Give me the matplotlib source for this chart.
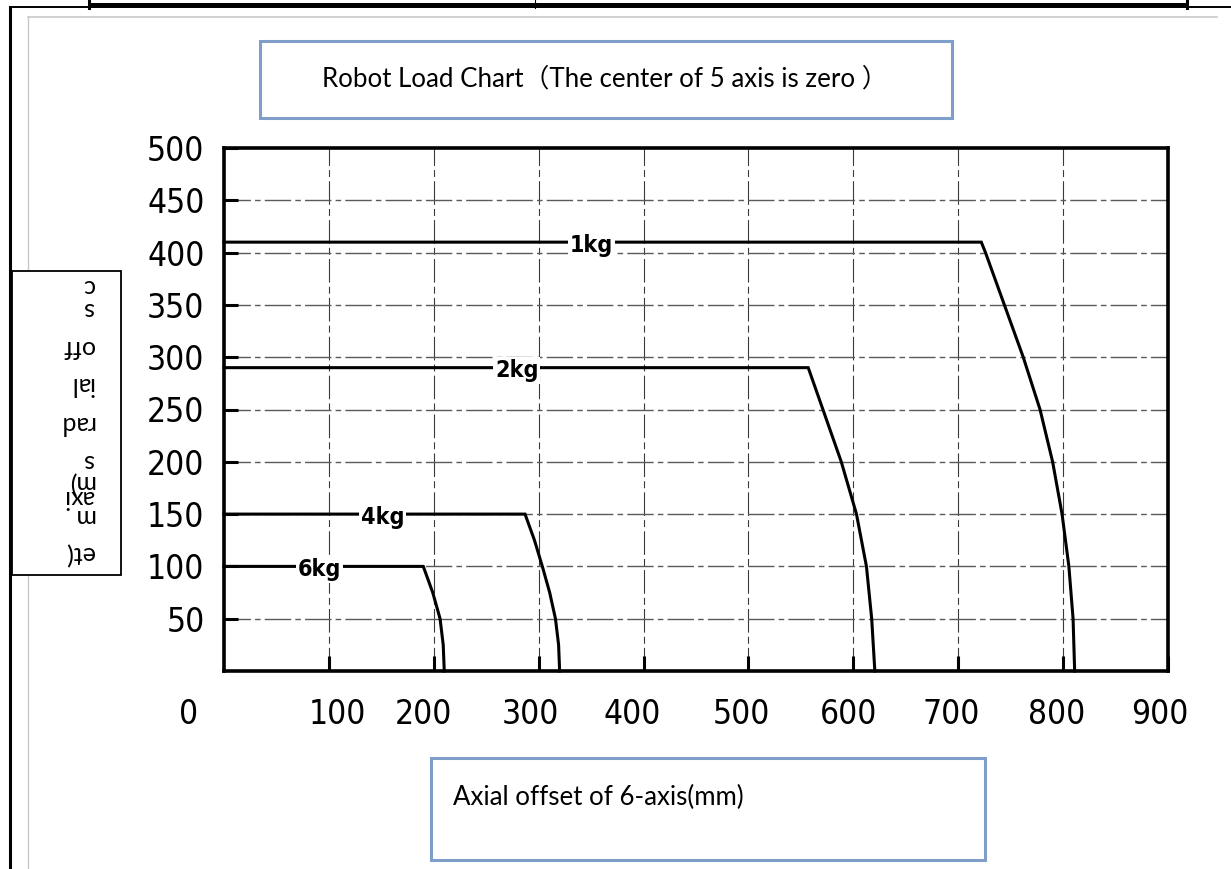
import os
import glob
import matplotlib
matplotlib.use("Agg")
import matplotlib.pyplot as plt
from matplotlib import font_manager as fm
from matplotlib.patches import Rectangle
from matplotlib.lines import Line2D
from matplotlib.textpath import TextPath
import matplotlib.transforms as mtransforms

# ---------------- data ----------------
load_names = ["1kg", "2kg", "4kg", "6kg"]

x_1kg = [0, 722, 726, 744, 762, 778, 790, 799, 805.5, 809.5, 811]
y_1kg = [410, 410, 400, 350, 300, 250, 200, 150, 100, 50, 0]

x_2kg = [0, 557, 571, 588.5, 603, 612.5, 617.5, 620.5]
y_2kg = [290, 290, 250, 200, 150, 100, 50, 0]

x_4kg = [0, 287, 296, 303.5, 310.5, 316, 319, 320]
y_4kg = [150, 150, 125, 100, 75, 50, 25, 0]

x_6kg = [0, 190, 199, 206, 209, 210]
y_6kg = [100, 100, 75, 50, 25, 0]

# where each load label sits along its flat segment (x value)
label_x = [350, 279, 151, 91]

x_ticks = [0, 100, 200, 300, 400, 500, 600, 700, 800, 900]
x_tick_labels = ["0", "100", "200", "300", "400", "500", "600", "700", "800", "900"]
y_ticks = [50, 100, 150, 200, 250, 300, 350, 400, 450, 500]
y_tick_labels = ["50", "100", "150", "200", "250", "300", "350", "400", "450", "500"]

title_text = "Robot Load Chart（The center of 5 axis is zero ）"
xlabel_text = "Axial offset of 6-axis(mm)"
left_box_lines = ["c", "s", "off", "ial", "rad", "s", "m)", "axi", "m", "et("]

# ---------------- fonts ----------------
def find_font(prefixes):
    files = [f.fname for f in fm.fontManager.ttflist]
    files += glob.glob("/usr/share/fonts/**/*.[ot]tf", recursive=True)
    for p in prefixes:
        for fn in files:
            if os.path.basename(fn).lower().startswith(p.lower()):
                return fn
    return None

num_file = find_font(["LiberationSansNarrow-Regular", "DejaVuSansCondensed.ttf",
                      "NotoSans-Condensed.", "RobotoCondensed-Regular",
                      "OpenSans-CondRegular", "OpenSans_Condensed-Regular"])
bold_file = find_font(["LiberationSansNarrow-Bold.", "DejaVuSansCondensed-Bold",
                       "NotoSans-CondensedBold", "RobotoCondensed-Bold",
                       "OpenSans-CondBold", "OpenSans_Condensed-Bold"])

if num_file:
    fp_num = fm.FontProperties(fname=num_file)
else:
    fp_num = fm.FontProperties(family="Roboto")
if bold_file:
    fp_kg = fm.FontProperties(fname=bold_file)
else:
    fp_kg = fm.FontProperties(family="Roboto", weight="bold")

def fit_pt(fp, wsample, wpx, hsample, hpx):
    w = TextPath((0, 0), wsample, size=100, prop=fp).get_extents().width
    h = TextPath((0, 0), hsample, size=100, prop=fp).get_extents().height
    return min(wpx * 72 / w, hpx * 72 / h)

fp_num.set_size(fit_pt(fp_num, "500", 53, "500", 29))
fp_kg.set_size(fit_pt(fp_kg, "2kg", 40, "2", 22))

txt_family = ["Lato", "Noto Sans CJK SC", "DejaVu Sans"]
plt.rcParams["lines.scale_dashes"] = False

# ---------------- figure ----------------
W, H = 1231, 869
fig = plt.figure(figsize=(W / 100, H / 100), dpi=100)
fig.patch.set_facecolor("white")

def fx(x):
    return x / W

def fy(y):
    return 1 - y / H

def fig_rect(x0, y0, x1, y1, **kw):
    r = Rectangle((fx(x0), fy(y1)), (x1 - x0) / W, (y1 - y0) / H,
                  transform=fig.transFigure, **kw)
    fig.add_artist(r)

def fig_line(xs, ys, **kw):
    fig.add_artist(Line2D([fx(v) for v in xs], [fy(v) for v in ys],
                          transform=fig.transFigure, **kw))

# page decorations
fig_line([28, 1217], [17, 17], color="#c4c4c4", lw=1.1, zorder=1)
fig_line([28, 28], [17, H], color="#c8c8c8", lw=1.0, zorder=1)
fig_rect(88, 2.5, 1188, 7.5, fc="black", ec="none", zorder=2)
fig_line([88.5, 88.5], [0, 7.5], color="black", lw=2.2, zorder=2)
fig_line([535, 535], [0, 7.5], color="black", lw=0.8, zorder=2)
fig_line([1187, 1187], [0, 7.5], color="black", lw=2.2, zorder=2)
fig_line([9.5, W], [7, 7], color="black", lw=1.4, zorder=2)
fig_line([9.5, 9.5], [7, H], color="black", lw=2.2, zorder=2)

# left (upside-down) text box
fig_rect(12, 271, 121, 575, fc="white", ec="black", lw=1.3, zorder=3)
left_line_y = [287, 310, 347, 385, 423, 462, 482, 497, 517, 553]
for s, yy in zip(left_box_lines, left_line_y):
    fig.text(fx(94), fy(yy), s, rotation=180, ha="right", va="center",
             fontsize=18, family=txt_family, color="black", zorder=4)

# title box
fig_rect(260, 41, 952, 118, fc="white", ec="#7f9fca", lw=2.2, zorder=3)
fig.text(fx(322), fy(79), title_text, ha="left", va="center",
         fontsize=18.6, family=txt_family, color="black", zorder=4)

# x-label box
fig_rect(431, 758, 985, 860, fc="white", ec="#7f9fca", lw=2.2, zorder=3)
fig.text(fx(453), fy(797), xlabel_text, ha="left", va="center",
         fontsize=18.6, family=txt_family, color="black", zorder=4)

# ---------------- axes ----------------
ax = fig.add_axes([fx(224), fy(671), (1168 - 224) / W, (671 - 148) / H])
ax.set_xlim(0, 900)
ax.set_ylim(0, 500)
ax.set_facecolor("white")

for xv in x_ticks[1:-1]:
    ax.axvline(xv, color="#3a3a3a", lw=0.8, dashes=(17, 3, 5, 3), zorder=1)
for yv in y_ticks[:-1]:
    ax.axhline(yv, color="#5a5a5a", lw=1.0, dashes=(19, 3, 4, 3), zorder=1)

for sp in ax.spines.values():
    sp.set_linewidth(2.6)
    sp.set_color("black")

ax.set_xticks(x_ticks[1:])
ax.set_xticklabels([])
ax.tick_params(axis="x", direction="in", length=11, width=2.2, bottom=True,
               top=False, labelbottom=False)
ax.set_yticks(y_ticks)
ax.set_yticklabels(y_tick_labels, fontproperties=fp_num)
ax.tick_params(axis="y", direction="in", length=10, width=2.2, left=True,
               right=False, pad=14)

# x tick labels (placed as in the drawing, slightly off the ticks)
xlabel_offsets = [-34, 8, -10, -8, -11, -7, -5, -7, -6, -8]
for xv, lab, off in zip(x_ticks, x_tick_labels, xlabel_offsets):
    ax.text(xv + off, -0.084, lab, transform=ax.get_xaxis_transform(),
            ha="center", va="center", fontproperties=fp_num, clip_on=False)

curves = [(x_1kg, y_1kg), (x_2kg, y_2kg), (x_4kg, y_4kg), (x_6kg, y_6kg)]
lab_tr = mtransforms.offset_copy(ax.transData, fig=fig, x=0, y=-3, units="dots")
for name, (xs, ys), lx in zip(load_names, curves, label_x):
    ax.plot(xs, ys, color="black", lw=2.2, zorder=3, solid_joinstyle="miter",
            clip_on=False)
    ax.text(lx, ys[0], name, transform=lab_tr, ha="center", va="center",
            fontproperties=fp_kg, zorder=5,
            bbox=dict(boxstyle="square,pad=0.08", fc="white", ec="none"))

fig.savefig("out.png", dpi=100, facecolor="white")
